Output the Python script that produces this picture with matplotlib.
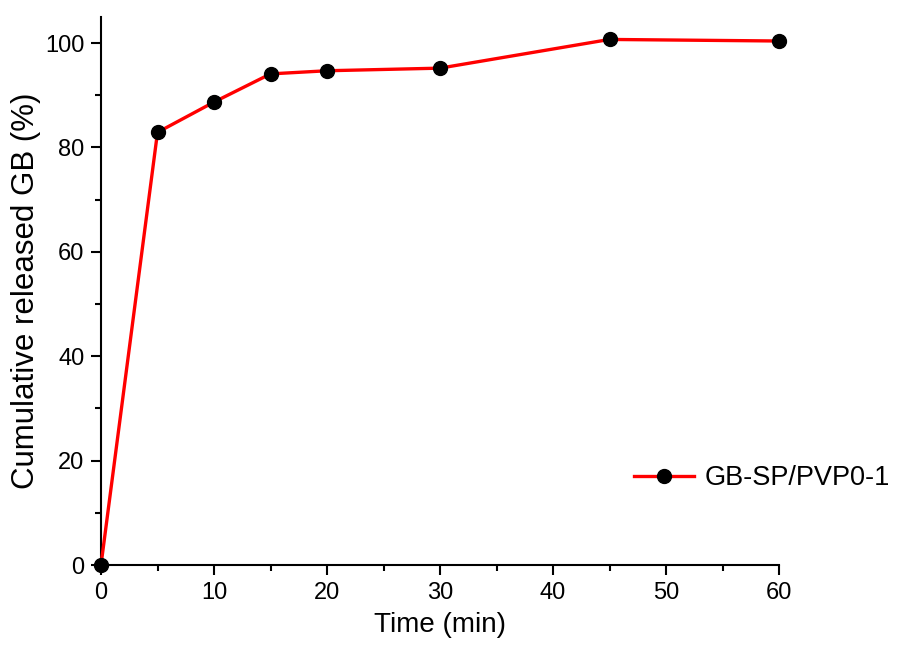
import matplotlib
matplotlib.use("Agg")
from matplotlib import pyplot as plt
from matplotlib.ticker import MultipleLocator

plt.rcParams['font.family'] = ['Liberation Sans', 'DejaVu Sans']

time_min = [0, 5, 10, 15, 20, 30, 45, 60]
released = [0, 82.9, 88.7, 94.1, 94.7, 95.2, 100.7, 100.4]
label = 'GB-SP/PVP0-1'

fig = plt.figure(figsize=(9, 6.56), dpi=100)
ax = fig.add_axes([101/900, 1 - 565/656, (779 - 101)/900, (565 - 17)/656])

ax.plot(time_min, released, color='red', lw=2.4, marker='o', ms=10,
        mfc='black', mec='black', label=label, clip_on=False, zorder=3)

ax.set_xlim(0, 60)
ax.set_ylim(0, 105)
ax.xaxis.set_major_locator(MultipleLocator(10))
ax.xaxis.set_minor_locator(MultipleLocator(5))
ax.yaxis.set_major_locator(MultipleLocator(20))
ax.yaxis.set_minor_locator(MultipleLocator(10))

for s in ['top', 'right']:
    ax.spines[s].set_visible(False)
for s in ['left', 'bottom']:
    ax.spines[s].set_linewidth(1.5)

ax.tick_params(which='major', direction='out', length=7, width=1.5, labelsize=17, pad=5)
ax.tick_params(which='minor', direction='out', length=4, width=1.5)

ax.set_xlabel('Time (min)', fontsize=20, labelpad=6)
ax.set_ylabel('Cumulative released GB (%)', fontsize=22.5, labelpad=2.5)

ax.legend(loc='lower right', bbox_to_anchor=(1.2, 0.09), frameon=False,
          fontsize=19.5, handlelength=2.2, handletextpad=0.4)

fig.savefig('out.png', dpi=100)
